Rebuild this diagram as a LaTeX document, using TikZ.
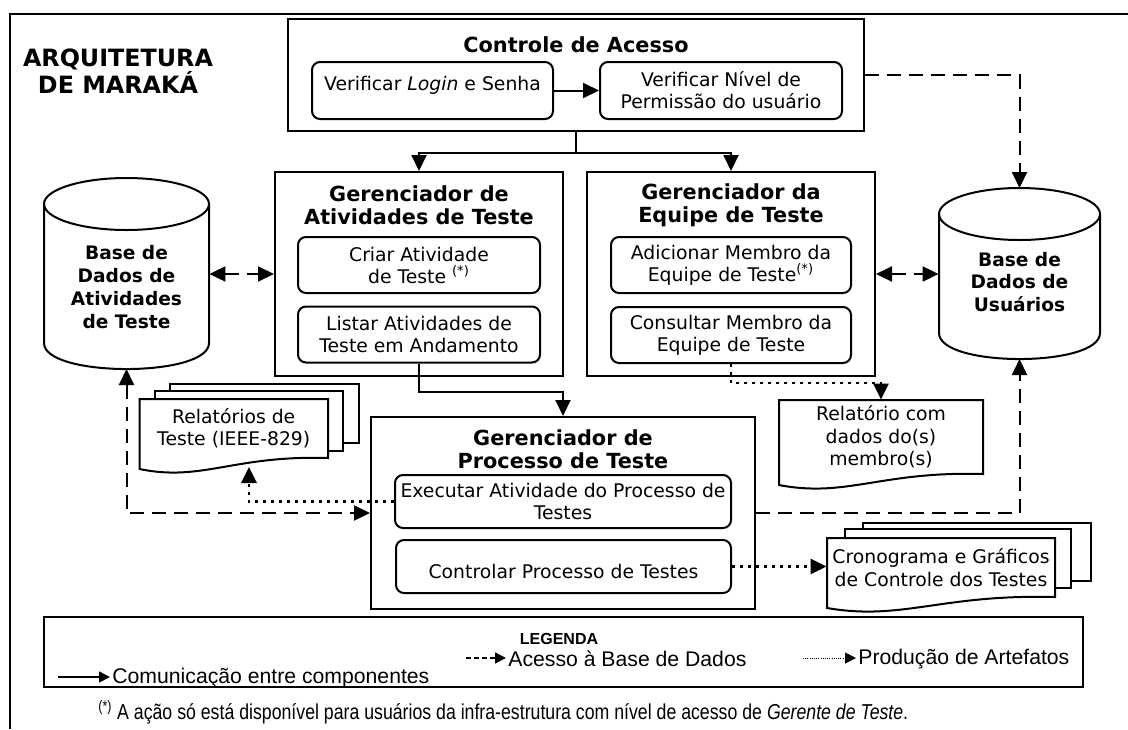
\documentclass[tikz,border=0pt]{standalone}
\usepackage{graphicx}
\usepackage{fontspec}
\setmainfont{DejaVu Sans}
\newfontfamily\fonteleg{Liberation Sans}
\usetikzlibrary{arrows.meta, positioning, calc}

\tikzset{
  borda/.style={line width=1pt},
  componente/.style={draw, line width=1pt, inner sep=0pt},
  titulo/.style={font=\fontsize{10.4}{11.5}\selectfont\bfseries, align=center, inner sep=0pt},
  acao/.style={draw, line width=1pt, rounded corners=4pt, align=center, inner sep=0pt,
    font=\fontsize{9.4}{11}\selectfont, minimum width=121pt, minimum height=28pt},
  base/.style={font=\fontsize{9.3}{11.4}\selectfont\bfseries, align=center, inner sep=0pt},
  doc/.style={font=\fontsize{9.4}{11.2}\selectfont, align=center, inner sep=0pt},
  com/.style={line width=1pt, ->},
  dados/.style={line width=1pt, dash pattern=on 7pt off 4pt},
  art/.style={line width=1.4pt, dash pattern=on 1.3pt off 2.7pt, ->},
  leg/.style={font=\fonteleg\fontsize{10.6}{12}\selectfont, inner sep=1pt, anchor=west},
  legseta/.style={line width=0.8pt, -{Triangle[length=5.5pt,width=5.5pt]}}
}

% folha de documento: esquerda, topo, direita, base
\newcommand{\folha}[4]{%
  \draw[borda, fill=white] (#1,#2) -- (#3,#2) -- (#3,#4)
    .. controls ({(#1+#3)/2},{#4-3}) and ({#1+0.33*(#3-#1)},{#4+24}) .. (#1,{#4+11}) -- cycle;
}

\begin{document}
\begin{tikzpicture}[x=0.5pt, y=-0.5pt, >={Triangle[length=8pt,width=7.5pt]}]
\useasboundingbox (0,0) rectangle (1128,729);

% moldura
\draw[borda] (9.5,729) -- (9.5,14) -- (1128,14);
\node[font=\fontsize{11.9}{12}\selectfont\bfseries, align=center] (arq) at (118,71) {ARQUITETURA\\DE MARAKÁ};

% controle de acesso
\node[componente, minimum width=288pt, minimum height=56pt] (acesso) at (576,75) {};
\node[titulo] (tacesso) at (576,45) {Controle de Acesso};
\node[acao, minimum width=120.5pt, minimum height=28.5pt, text depth=7pt] (login) at (432.5,90.5) {Verificar \textit{Login} e Senha};
\node[acao, minimum height=28.5pt] (permissao) at (721,90.5) {Verificar Nível de\\Permissão do usuário};

% gerenciadores
\node[componente, minimum width=144pt, minimum height=102pt] (ativ) at (419,274) {};
\node[titulo] (tativ) at (419,205) {Gerenciador de\\Atividades de Teste};
\node[acao] (criar) at (419,265) {Criar Atividade\\de Teste \textsuperscript{(*)}};
\node[acao] (listar) at (419,334.5) {Listar Atividades de\\Teste em Andamento};

\node[componente, minimum width=144pt, minimum height=102pt] (equipe) at (731,274) {};
\node[titulo] (tequipe) at (731,205) {Gerenciador da\\Equipe de Teste};
\node[acao, minimum width=120pt] (adicionar) at (731,265) {Adicionar Membro da\\Equipe de Teste\textsuperscript{(*)}};
\node[acao, minimum width=120pt] (consultar) at (731,335) {Consultar Membro da\\Equipe de Teste};

\node[componente, minimum width=192pt, minimum height=96pt] (processo) at (563,513) {};
\node[titulo] (tprocesso) at (563,449.5) {Gerenciador de\\Processo de Teste};
\node[acao, minimum width=168pt, minimum height=26.5pt] (executar) at (563,501.5) {Executar Atividade do Processo de\\Testes};
\node[acao, minimum width=167.5pt, minimum height=26.5pt, text height=12pt] (controlar) at (563.5,566.5) {Controlar Processo de Testes};

% bases de dados
\draw[borda] (44,204) -- (44,343) .. controls (44,377.7) and (209,377.7) .. (209,343) -- (209,204);
\draw[borda] (126.5,204) ellipse [x radius=82.5, y radius=26];
\node[base, minimum width=82.5pt] (bdativ) at (126.5,287) {Base de\\Dados de\\Atividades\\de Teste};
\coordinate (ativbase) at (126.5,369);

\draw[borda] (939,214) -- (939,333) .. controls (939,367.7) and (1100,367.7) .. (1100,333) -- (1100,214);
\draw[borda] (1019.5,214) ellipse [x radius=80.5, y radius=26];
\node[base, minimum width=80.5pt] (bdusu) at (1019.5,282) {Base de\\Dados de\\Usuários};
\coordinate (usutopo) at (1019.5,188);
\coordinate (usubase) at (1019.5,359);

% artefatos
\draw[borda, fill=white] (170,384) rectangle (359,443);
\draw[borda, fill=white] (155,391) rectangle (343,451);
\folha{139.5}{399}{328}{458}
\node[doc, minimum width=94.25pt, minimum height=29.5pt] (reltestes) at (233.75,428.5) {Relatórios de\\Teste (IEEE-829)};
\coordinate (relseta) at (249,467);

\folha{779}{400}{983}{474}
\node[doc, minimum width=102pt, minimum height=37pt] (relcom) at (881,437) {Relatório com\\dados do(s)\\membro(s)};

\draw[borda, fill=white] (863,523) rectangle (1091,581);
\draw[borda, fill=white] (845,529) rectangle (1071,588);
\folha{827}{538}{1055}{597}
\node[doc, minimum width=114pt, minimum height=29.5pt] (crono) at (941,567.5) {Cronograma e Gráficos\\de Controle dos Testes};

% conexoes
\draw[com] (login) -- (permissao);
\draw[com] (acesso.south) -- ++(0,21) -| (ativ.north);
\draw[com] (acesso.south) -- ++(0,21) -| (equipe.north);
\draw[com] (listar.south) -- ++(0,28) -| (processo.north);
\draw[dados, ->] (acesso.east) -| (usutopo);
\draw[dados, <->] (bdativ.east |- ativ) -- (ativ.west);
\draw[dados, <->] (equipe.east) -- (bdusu.west |- equipe);
\draw[dados, <->] (ativbase) |- (processo.west);
\draw[dados, ->] (processo.east) -| (usubase);
\draw[art] (consultar.south) -- ++(0,19) -| (relcom.north);
\draw[art] (executar.west) -| (relseta);
\draw[art] (controlar.east) -- (controlar.east -| crono.west);

% legenda
\node[componente, minimum width=519.5pt, minimum height=35pt] (legenda) at (563.5,652) {};
\node[font=\fonteleg\fontsize{8}{9}\selectfont\bfseries] (tlegenda) at (559,639) {LEGENDA};
\node[leg] (lcom) at (110,678) {Comunicação entre componentes};
\node[leg] (ldados) at (506,659) {Acesso à Base de Dados};
\node[leg] (lart) at (856,659) {Produção de Artefatos};
\coordinate (lcomini) at (58,677);
\coordinate (ldadosini) at (466,658);
\coordinate (lartini) at (803,658);
\draw[legseta] (lcomini) -- (lcomini -| lcom.west);
\draw[legseta, dash pattern=on 2.5pt off 1.5pt] (ldadosini) -- (ldadosini -| ldados.west);
\draw[legseta, line width=0.5pt, dash pattern=on 0.5pt off 0.6pt] (lartini) -- (lartini -| lart.west);

\node[font=\fonteleg\fontsize{10.8}{12}\selectfont, anchor=west, inner sep=0pt] (nota) at (98,712)
  {\scalebox{0.82}[1]{\textsuperscript{(*)} A ação só está disponível para usuários da infra-estrutura com nível de acesso de \textit{Gerente de Teste}.}};
\end{tikzpicture}
\end{document}
